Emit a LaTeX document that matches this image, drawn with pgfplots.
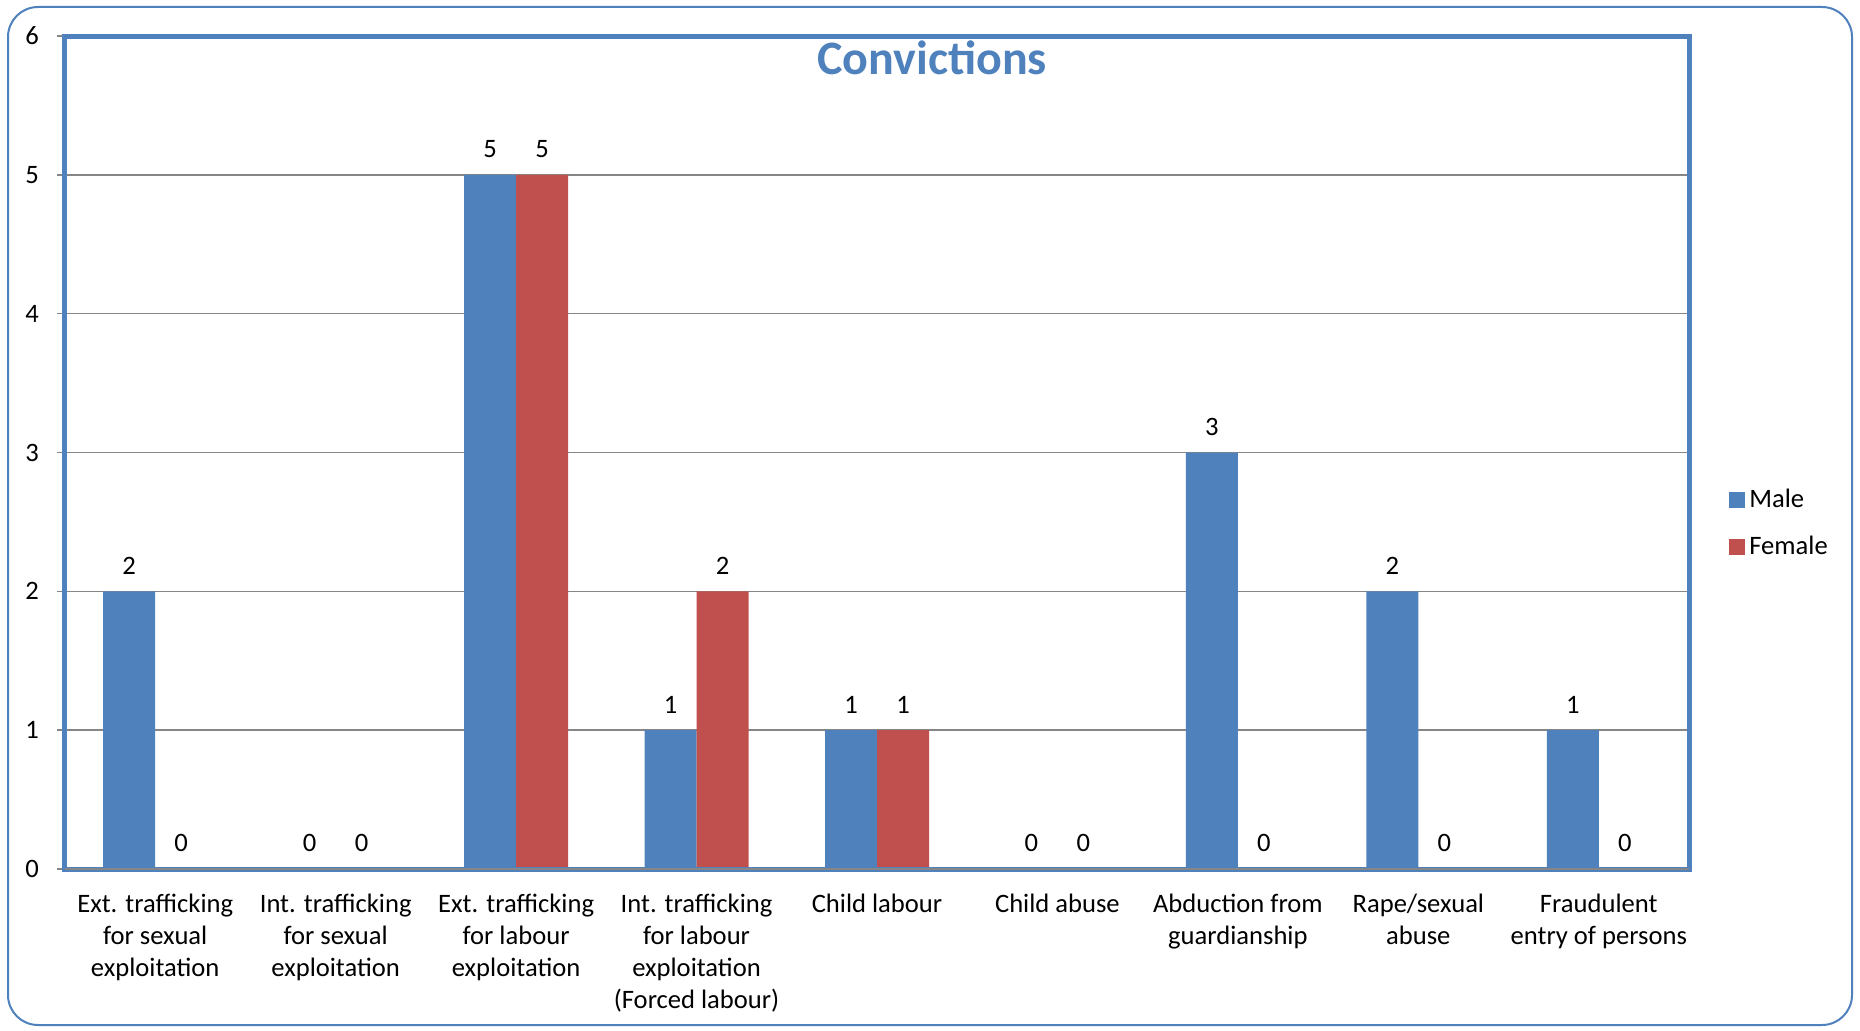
\documentclass[border=0pt]{standalone}
\usepackage{fontspec}
\setmainfont{Carlito}
\usepackage{pgfplots}
\pgfplotsset{compat=1.18}
\definecolor{male}{HTML}{4F81BD}
\definecolor{female}{HTML}{C0504D}
\definecolor{gridgray}{HTML}{868686}
\newcommand{\lbl}{\fontsize{13.3}{16}\selectfont}

\begin{document}
\begin{tikzpicture}
% outer chart border
\useasboundingbox (-32.5pt,-80.5pt) rectangle (897.5pt,434.5pt);
\draw[male, line width=1pt, rounded corners=15pt] (-28.5pt,-78pt) rectangle (893.5pt,431pt);
\begin{axis}[
  at={(0,0)}, anchor=south west,
  scale only axis, width=812pt, height=416.5pt,
  ybar=0pt, bar width=26pt,
  xmin=-0.5, xmax=8.5, ymin=0, ymax=6,
  xtick={0,...,8},
  xticklabels={
    {Ext. trafficking\\for sexual\\exploitation},
    {Int. trafficking\\for sexual\\exploitation},
    {Ext. trafficking\\for labour\\exploitation},
    {Int. trafficking\\for labour\\exploitation\\(Forced labour)},
    {Child labour},
    {Child abuse},
    {Abduction from\\guardianship},
    {Rape/sexual\\abuse},
    {Fraudulent\\entry of persons}},
  xticklabel style={align=center, font=\lbl, yshift=-5pt},
  minor xtick={-0.5,0.5,...,8.5},
  xtick style={draw=none},
  minor x tick style={gridgray, line width=0.8pt},
  minor tick length=3.5pt,
  xtick pos=bottom, ytick pos=left,
  ytick={0,...,6},
  ytick style={gridgray, line width=0.8pt},
  major tick length=4pt,
  tick align=outside,
  yticklabel style={font=\lbl, xshift=-5.5pt},
  /pgf/number format/assume math mode=true,
  ymajorgrids, major grid style={gridgray, line width=0.8pt},
  axis line style={draw=none},
  clip=false,
  nodes near coords,
  every node near coord/.append style={font=\lbl, black, yshift=5pt},
  legend style={at={(1,0.415)}, anchor=west, xshift=17pt, draw=none, fill=none,
    font=\lbl, row sep=9pt, cells={anchor=west}},
  legend image code/.code={\fill[#1] (0pt,-4pt) rectangle (8pt,4pt);},
]
\addplot[fill=male, draw=none] coordinates {(0,2) (1,0) (2,5) (3,1) (4,1) (5,0) (6,3) (7,2) (8,1)};
\addplot[fill=female, draw=none] coordinates {(0,0) (1,0) (2,5) (3,2) (4,1) (5,0) (6,0) (7,0) (8,0)};
\legend{Male,Female}
\draw[male, line width=2.5pt] (rel axis cs:0,0) -- (rel axis cs:0,1) -- (rel axis cs:1,1) -- (rel axis cs:1,0) -- cycle;
\draw[gridgray, line width=1pt] (rel axis cs:0,0) -- (rel axis cs:1,0);
\node[anchor=base, font=\fontsize{24}{28}\selectfont\bfseries, text=male] at (rel axis cs:0.534,0.954) {Convictions};
\end{axis}
\end{tikzpicture}
\end{document}
